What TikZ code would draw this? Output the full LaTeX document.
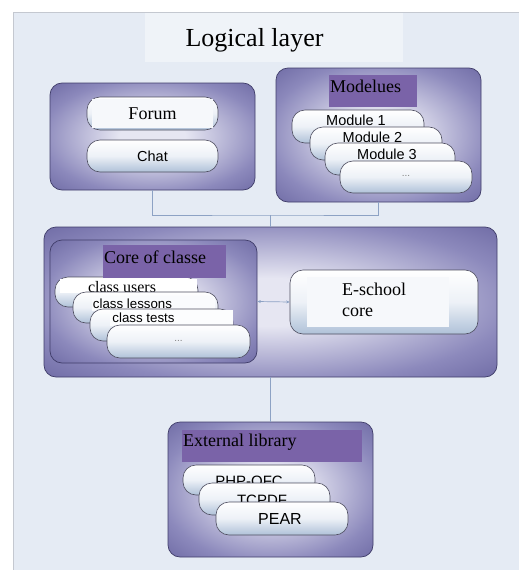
\documentclass[tikz,border=0pt]{standalone}
\usepackage{fontspec}
\setmainfont{Liberation Serif}
\newfontfamily\sansf{Liberation Sans}
\usetikzlibrary{arrows.meta}
\definecolor{bgc}{HTML}{E5EBF4}
\definecolor{titlebg}{HTML}{EFF3F8}
\definecolor{framec}{HTML}{C4C8D0}
\definecolor{boxedge}{HTML}{5C5896}
\definecolor{boxmid}{HTML}{8C89BC}
\definecolor{boxin}{HTML}{E6E6F2}
\definecolor{boxline}{HTML}{403D6A}
\definecolor{labc}{HTML}{7A63A8}
\definecolor{pillb}{HTML}{AFC1D8}
\definecolor{pillm}{HTML}{EDF1F7}
\definecolor{pillline}{HTML}{4E4E60}
\definecolor{connc}{HTML}{8DA2C4}
\definecolor{innerw}{HTML}{F6F8FB}
\pgfdeclareradialshading{boxshade}{\pgfpointorigin}{color(0bp)=(boxin); color(8bp)=(boxin); color(27bp)=(boxmid); color(42bp)=(boxedge); color(100bp)=(boxedge)}
\begin{document}
\begin{tikzpicture}[x=1pt,y=-1pt,
  obox/.style={draw=boxline, line width=0.7pt, rounded corners=12pt, shading=boxshade, inner sep=0pt},
  pillv/.style={draw=pillline, line width=0.6pt, rounded corners=13pt, top color=white, bottom color=pillb, middle color=pillm, inner sep=0pt},
  labbox/.style={fill=labc, inner sep=0pt},
  serif/.style={inner sep=0pt, font=\fontsize{18}{21}\selectfont},
  sans/.style={inner sep=0pt, font=\sansf\fontsize{14.5}{16}\selectfont},
  dotst/.style={inner sep=0pt, text=gray, font=\sansf\fontsize{10}{12}\selectfont},
  conn/.style={draw=connc, line width=0.9pt},
]
\useasboundingbox (0,0) rectangle (519,570);
\fill[white] (0,0) rectangle (519,570);
\fill[bgc] (13,12) rectangle (519,570);
\draw[framec, line width=0.8pt] (13,570) -- (13,12) -- (519,12);
\fill[titlebg] (145,13) rectangle (403,62);
\node[inner sep=0pt, font=\fontsize{26}{30}\selectfont] (title) at (254.5,40) {Logical layer};

% connectors
\coordinate (j) at (270.5,215);
% top left box
\node[obox, minimum width=205pt, minimum height=107pt] (fc) at (152.5,136.5) {};
\node[pillv, minimum width=131pt, minimum height=33pt] (forum) at (152.5,113.5) {};
\fill[innerw] (92,99) rectangle (213,128);
\node[serif] (forumt) at (152.5,113.5) {Forum};
\node[pillv, minimum width=131pt, minimum height=32pt] (chat) at (152.5,156) {};
\node[sans] (chatt) at (152.5,156) {Chat};

% modules box
\node[obox, minimum width=205pt, minimum height=134pt] (mods) at (378.5,135) {};
\node[labbox, minimum width=88pt, minimum height=32pt] (modlab) at (373,91) {};
\node[serif, anchor=west] (modt) at (330,86) {Modelues};
\node[pillv, minimum width=132pt, minimum height=33pt] (m1) at (358,126.5) {};
\node[sans] (m1t) at (356,120.5) {Module 1};
\node[pillv, minimum width=132pt, minimum height=33pt] (m2) at (376,143.5) {};
\node[sans] (m2t) at (372.5,137.5) {Module 2};
\node[pillv, minimum width=130pt, minimum height=32pt] (m3) at (390,159) {};
\node[sans] (m3t) at (387,154) {Module 3};
\node[pillv, minimum width=132pt, minimum height=32pt] (m4) at (406,177) {};
\node[dotst] (m4t) at (406,176) {...};

\draw[conn] (fc.south) |- (j) -| (mods.south);

% main box
\node[obox, minimum width=453pt, minimum height=150pt] (main) at (270.5,302) {};
\draw[conn] (j) -- (main.north);
\node[obox, minimum width=207pt, minimum height=123pt] (core) at (153.5,301.5) {};
\node[pillv, minimum width=143pt, minimum height=30pt] (cu) at (126.5,292) {};
\fill[white] (60,279) rectangle (197,293);
\node[inner sep=0pt, font=\fontsize{16}{18}\selectfont] (cut) at (122,287) {class users};
\node[pillv, minimum width=145pt, minimum height=31pt] (cl) at (145.5,307.5) {};
\fill[white!70!pillm] (92,297) rectangle (215,311);
\node[sans, font=\sansf\fontsize{13.3}{15}\selectfont] (clt) at (132.5,304) {class lessons};
\node[pillv, minimum width=143pt, minimum height=32pt] (ct) at (161.5,325) {};
\fill[white!85!pillm] (110,310) rectangle (233,326);
\node[sans, font=\sansf\fontsize{13.3}{15}\selectfont] (ctt) at (143.5,317.5) {class tests};
\node[pillv, minimum width=143pt, minimum height=33pt] (cd) at (178.5,341.5) {};
\node[dotst] (cdt) at (178.5,340.5) {...};
\node[labbox, minimum width=123pt, minimum height=33pt] (corelab) at (164.5,261.5) {};
\node[serif, anchor=west] (coret) at (104,257) {Core of classe};

\node[pillv, minimum width=188pt, minimum height=64pt] (es) at (384,302) {};
\fill[innerw] (307,277) rectangle (449,327);
\node[serif, anchor=west, align=left] (est) at (342,300) {E-school\\core};
\draw[conn, line width=0.7pt, {Stealth[length=3.5pt,width=3pt]}-{Stealth[length=3.5pt,width=3pt]}] (core.east) -- (es.west);

% external library
\node[obox, minimum width=205pt, minimum height=135pt] (ext) at (270.5,489.5) {};
\draw[conn] (main.south) -- (ext.north);
\node[labbox, minimum width=180pt, minimum height=32pt] (extlab) at (272,446) {};
\node[serif, anchor=west] (extt) at (183,442) {External library};
\node[pillv, minimum width=132pt, minimum height=30pt] (php) at (249,480) {};
\node[sans, font=\sansf\fontsize{15}{17}\selectfont] (phpt) at (249,481) {PHP-OFC};
\node[pillv, minimum width=131pt, minimum height=32pt] (tc) at (264.5,499) {};
\node[sans, font=\sansf\fontsize{15}{17}\selectfont] (tct) at (262,500) {TCPDF};
\node[pillv, minimum width=132pt, minimum height=33pt] (pear) at (282,518.5) {};
\node[sans, font=\sansf\fontsize{16}{18}\selectfont] (peart) at (280,518.5) {PEAR};
\end{tikzpicture}
\end{document}
